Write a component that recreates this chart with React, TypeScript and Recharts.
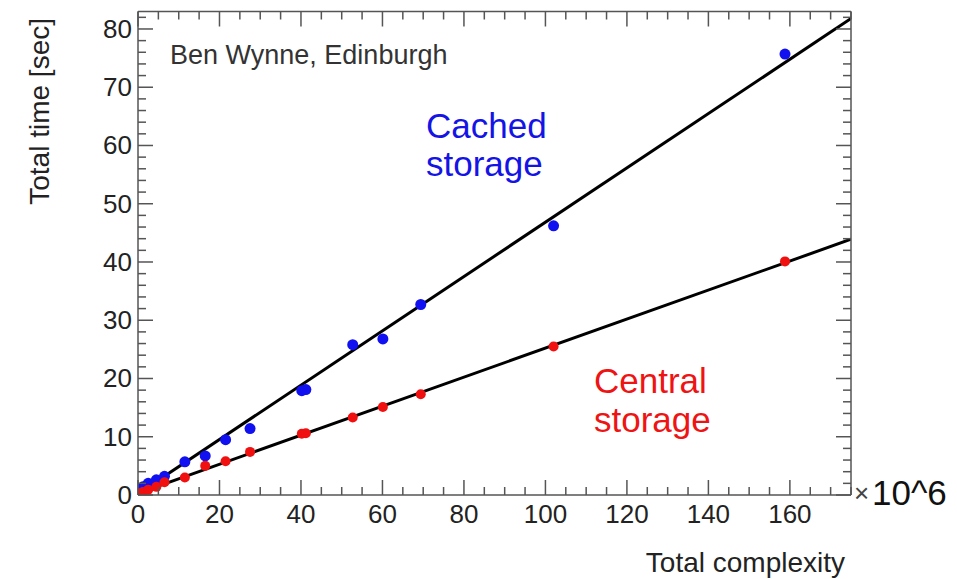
import { ComposedChart, Scatter, Line, XAxis, YAxis } from 'recharts';

// complexity in units of 10^6
const complexity = [0.5, 1.2, 2.5, 4.5, 6.5, 11.5, 16.5, 21.5, 27.5, 40.2, 41.2, 52.7, 60.1, 69.4, 102, 158.8];
const cachedTime = [0.8, 1.4, 2.0, 2.6, 3.2, 5.7, 6.7, 9.5, 11.4, 17.9, 18.1, 25.8, 26.8, 32.7, 46.2, 75.7];
const centralTime = [0.3, 0.5, 0.9, 1.4, 2.2, 3.0, 5.0, 5.8, 7.4, 10.5, 10.6, 13.3, 15.1, 17.3, 25.5, 40.1];

const fitX = [0, 175];
const cachedFit = [0.2, 81.8];
const centralFit = [0.3, 43.9];

const xTicks = [0, 5, 10, 15, 20, 25, 30, 35, 40, 45, 50, 55, 60, 65, 70, 75, 80, 85, 90, 95, 100, 105, 110, 115, 120, 125, 130, 135, 140, 145, 150, 155, 160, 165, 170, 175];
const xLabels = [0, 20, 40, 60, 80, 100, 120, 140, 160];
const yTicks = [0, 2, 4, 6, 8, 10, 12, 14, 16, 18, 20, 22, 24, 26, 28, 30, 32, 34, 36, 38, 40, 42, 44, 46, 48, 50, 52, 54, 56, 58, 60, 62, 64, 66, 68, 70, 72, 74, 76, 78, 80, 82];
const yLabels = [0, 10, 20, 30, 40, 50, 60, 70, 80];

const toRows = (xs: number[], ys: number[]) => xs.map((x, i) => ({ x, y: ys[i] }));

const cachedRows = toRows(complexity, cachedTime);
const centralRows = toRows(complexity, centralTime);
const cachedFitRows = toRows(fitX, cachedFit);
const centralFitRows = toRows(fitX, centralFit);

const FONT = '"Liberation Sans", Arial, Helvetica, sans-serif';
const FRAME = '#555';
const LABEL = '#222';

function BottomTick({ x, y, payload }: any) {
  const major = xLabels.includes(payload.value);
  return (
    <g>
      <line x1={x} x2={x} y1={y} y2={y - (major ? 15 : 8)} stroke={FRAME} strokeWidth={1.5} />
      {major && (
        <text x={x} y={y + 28} textAnchor="middle" fontSize={26} fill={LABEL} fontFamily={FONT}>
          {payload.value}
        </text>
      )}
    </g>
  );
}

function LeftTick({ x, y, payload }: any) {
  const major = yLabels.includes(payload.value);
  return (
    <g>
      <line x1={x} x2={x + (major ? 15 : 8)} y1={y} y2={y} stroke={FRAME} strokeWidth={1.5} />
      {major && (
        <text x={x - 6} y={y + 9} textAnchor="end" fontSize={26} fill={LABEL} fontFamily={FONT}>
          {payload.value}
        </text>
      )}
    </g>
  );
}

// mirrored ticks on the top and right edges of the frame
function TopTick({ x, y, payload }: any) {
  const major = xLabels.includes(payload.value);
  return <line x1={x} x2={x} y1={y} y2={y + (major ? 15 : 8)} stroke={FRAME} strokeWidth={1.5} />;
}

function RightTick({ x, y, payload }: any) {
  const major = yLabels.includes(payload.value);
  return <line x1={x} x2={x - (major ? 15 : 8)} y1={y} y2={y} stroke={FRAME} strokeWidth={1.5} />;
}

const dot = (color: string, r: number) => (props: any) =>
  <circle cx={props.cx} cy={props.cy} r={r} fill={color} />;

export default function App() {
  return (
    <div style={{ fontFamily: FONT }}>
      <ComposedChart width={949} height={571} margin={{ top: 2.5, right: 105, left: 0, bottom: 0 }}>
        <XAxis
          xAxisId="bottom"
          dataKey="x"
          type="number"
          domain={[0, 175]}
          allowDataOverflow
          ticks={xTicks}
          interval={0}
          height={84}
          tickSize={0}
          tickMargin={0}
          tickLine={false}
          tick={<BottomTick />}
          axisLine={{ stroke: FRAME, strokeWidth: 1.5 }}
        />
        <XAxis
          xAxisId="top"
          orientation="top"
          dataKey="x"
          type="number"
          domain={[0, 175]}
          allowDataOverflow
          ticks={xTicks}
          interval={0}
          height={1}
          tickSize={0}
          tickMargin={0}
          tickLine={false}
          tick={<TopTick />}
          axisLine={{ stroke: FRAME, strokeWidth: 1.5 }}
        />
        <YAxis
          yAxisId="left"
          dataKey="y"
          type="number"
          domain={[0, 83]}
          allowDataOverflow
          ticks={yTicks}
          interval={0}
          width={130}
          tickSize={0}
          tickMargin={0}
          tickLine={false}
          tick={<LeftTick />}
          axisLine={{ stroke: FRAME, strokeWidth: 1.5 }}
        />
        <YAxis
          yAxisId="right"
          orientation="right"
          dataKey="y"
          type="number"
          domain={[0, 83]}
          allowDataOverflow
          ticks={yTicks}
          interval={0}
          width={1}
          tickSize={0}
          tickMargin={0}
          tickLine={false}
          tick={<RightTick />}
          axisLine={{ stroke: FRAME, strokeWidth: 1.5 }}
        />
        <Scatter
          xAxisId="top"
          yAxisId="right"
          data={[]}
          isAnimationActive={false}
        />
        <Scatter
          xAxisId="bottom"
          yAxisId="left"
          data={cachedRows}
          shape={dot('#1010f0', 5.5)}
          isAnimationActive={false}
        />
        <Scatter
          xAxisId="bottom"
          yAxisId="left"
          data={centralRows}
          shape={dot('#f01010', 5)}
          isAnimationActive={false}
        />
        <Line
          xAxisId="bottom"
          yAxisId="left"
          data={cachedFitRows}
          dataKey="y"
          type="linear"
          stroke="#000"
          strokeWidth={3}
          dot={false}
          activeDot={false}
          isAnimationActive={false}
        />
        <Line
          xAxisId="bottom"
          yAxisId="left"
          data={centralFitRows}
          dataKey="y"
          type="linear"
          stroke="#000"
          strokeWidth={3}
          dot={false}
          activeDot={false}
          isAnimationActive={false}
        />
        <text x={162} y={56} fontSize={27} fill="#333" fontFamily={FONT}>Ben Wynne, Edinburgh</text>
        <text x={418} y={130} fontSize={35} fill="#1414e6" fontFamily={FONT}>Cached</text>
        <text x={418} y={168} fontSize={35} fill="#1414e6" fontFamily={FONT}>storage</text>
        <text x={586} y={385} fontSize={35} fill="#ee1414" fontFamily={FONT}>Central</text>
        <text x={586} y={424} fontSize={35} fill="#ee1414" fontFamily={FONT}>storage</text>
        <text x={846} y={494} fontSize={26} fill="#444" fontFamily={FONT}>×</text>
        <text x={864} y={497} fontSize={35} fill="#111" fontFamily={FONT}>10^6</text>
        <text x={837} y={564} textAnchor="end" fontSize={28} fill={LABEL} fontFamily={FONT}>Total complexity</text>
        <text
          x={41}
          y={10}
          textAnchor="end"
          fontSize={28}
          fill={LABEL}
          fontFamily={FONT}
          transform="rotate(-90 41 10)"
        >
          Total time [sec]
        </text>
      </ComposedChart>
    </div>
  );
}
